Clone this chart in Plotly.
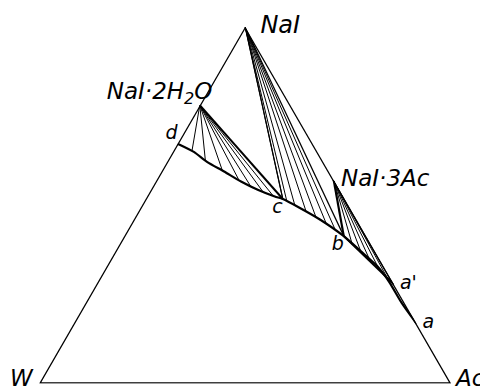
import plotly.graph_objects as go

# compositions as (NaI, W, Ac) fractions
vertex_labels = ['NaI', 'W', 'Ac']
vertex_nai = [1.0, 0.0, 0.0]
vertex_w = [0.0, 1.0, 0.0]
vertex_ac = [0.0, 0.0, 1.0]

# solid phases
solid_labels = ['NaI', 'NaI·2H<sub>2</sub>O', 'NaI·3Ac']
solid_nai = [1.0, 0.78, 0.57]
solid_w = [0.0, 0.22, 0.0]
solid_ac = [0.0, 0.0, 0.43]

# saturation curve d - c - b - a
curve_nai = [0.672, 0.649, 0.621, 0.594, 0.566, 0.543, 0.524, 0.517, 0.492, 0.459, 0.413, 0.371, 0.329, 0.285, 0.226, 0.168]
curve_w = [0.328, 0.300, 0.282, 0.254, 0.227, 0.198, 0.166, 0.150, 0.121, 0.088, 0.054, 0.034, 0.015, 0.008, 0.007, 0.0]
curve_ac = [0.0, 0.051, 0.097, 0.152, 0.207, 0.259, 0.310, 0.333, 0.387, 0.453, 0.533, 0.595, 0.656, 0.707, 0.767, 0.832]

# labelled points
point_labels = ['d', 'c', 'b', "a'", 'a']
point_nai = [0.672, 0.517, 0.413, 0.278, 0.168]
point_w = [0.328, 0.150, 0.054, 0.0, 0.0]
point_ac = [0.0, 0.333, 0.533, 0.722, 0.832]

# tie lines: liquid ends for NaI, NaI·2H2O and NaI·3Ac
nai_tie_nai = [0.517, 0.512, 0.498, 0.482, 0.466, 0.448, 0.430]
nai_tie_w = [0.150, 0.143, 0.130, 0.111, 0.095, 0.079, 0.066]
nai_tie_ac = [0.333, 0.345, 0.372, 0.407, 0.439, 0.473, 0.504]

hyd_tie_nai = [0.652, 0.625, 0.596, 0.569, 0.552, 0.537, 0.526]
hyd_tie_w = [0.303, 0.284, 0.257, 0.230, 0.210, 0.188, 0.169]
hyd_tie_ac = [0.045, 0.091, 0.147, 0.201, 0.238, 0.275, 0.305]

solv_tie_nai = [0.390, 0.365, 0.340, 0.315, 0.295]
solv_tie_w = [0.045, 0.035, 0.025, 0.015, 0.007]
solv_tie_ac = [0.565, 0.600, 0.635, 0.670, 0.698]

FONT = 'DejaVu Sans'


def fan(k, ends_a, ends_b, ends_c):
    # segments from solid phase k to each liquid end
    a, b, c = [], [], []
    for ea, eb, ec in zip(ends_a, ends_b, ends_c):
        a += [solid_nai[k], ea, None]
        b += [solid_w[k], eb, None]
        c += [solid_ac[k], ec, None]
    return a, b, c


def line(a, b, c, width, shape='linear'):
    return go.Scatterternary(
        a=a, b=b, c=c, mode='lines'
        , line=dict(color='black', width=width, shape=shape, smoothing=0.7)
        , cliponaxis=False, hoverinfo='skip', showlegend=False
    )


fig = go.Figure()

# triangle
fig.add_trace(line(vertex_nai + vertex_nai[:1], vertex_w + vertex_w[:1], vertex_ac + vertex_ac[:1], 2.6))

# tie lines
for k, (ta, tb, tc) in enumerate([(nai_tie_nai, nai_tie_w, nai_tie_ac)
                                  , (hyd_tie_nai, hyd_tie_w, hyd_tie_ac)
                                  , (solv_tie_nai, solv_tie_w, solv_tie_ac)]):
    fig.add_trace(line(*fan(k, ta, tb, tc), 1))

# boundaries of the three-phase triangles
fig.add_trace(line(*fan(1, point_nai[1:2], point_w[1:2], point_ac[1:2]), 2))
fig.add_trace(line(*fan(0, point_nai[1:3], point_w[1:3], point_ac[1:3]), 1.2))
fig.add_trace(line(*fan(2, point_nai[2:4], point_w[2:4], point_ac[2:4]), 2.2))
fig.add_trace(line(point_nai[2:4], point_w[2:4], point_ac[2:4], 2))

# saturation curve
fig.add_trace(line(curve_nai, curve_w, curve_ac, 2.2, 'spline'))

# labels at the points
fig.add_trace(go.Scatterternary(
    a=vertex_nai[:1] + solid_nai[1:] + point_nai
    , b=vertex_w[:1] + solid_w[1:] + point_w
    , c=vertex_ac[:1] + solid_ac[1:] + point_ac
    , mode='text'
    , text=['  ' + vertex_labels[0], solid_labels[1] + ' ' * 11, ' ' + solid_labels[2]]
           + ['d', 'c', 'b', " a'", ' a']
    , textposition=['middle right', 'top center', 'middle right'
                    , 'top left', 'bottom left', 'bottom left', 'middle right', 'middle right']
    , textfont=dict(family=FONT, size=[24, 23, 23, 19, 19, 19, 19, 19], color='black', style='italic')
    , cliponaxis=False, hoverinfo='skip', showlegend=False
))

# corner labels W and Ac
label_font = dict(family=FONT, size=23, color='black', style='italic')
fig.add_annotation(text=vertex_labels[1], x=0.058, y=0.035, xref='paper', yref='paper'
                   , xanchor='right', yanchor='middle', showarrow=False, font=label_font)
fig.add_annotation(text=vertex_labels[2], x=0.925, y=0.035, xref='paper', yref='paper'
                   , xanchor='left', yanchor='middle', showarrow=False, font=label_font)

hidden = dict(showline=False, showgrid=False, showticklabels=False, ticks='', title=dict(text=''))
fig.update_layout(
    width=480, height=383
    , margin=dict(l=0, r=0, t=0, b=0)
    , paper_bgcolor='white'
    , ternary=dict(
        sum=1
        , domain=dict(x=[0.044, 0.944], y=[0.0196, 0.9512])
        , bgcolor='white'
        , aaxis=hidden, baxis=hidden, caxis=hidden
    )
)

fig.write_html('out.html', config=dict(displayModeBar=False))
